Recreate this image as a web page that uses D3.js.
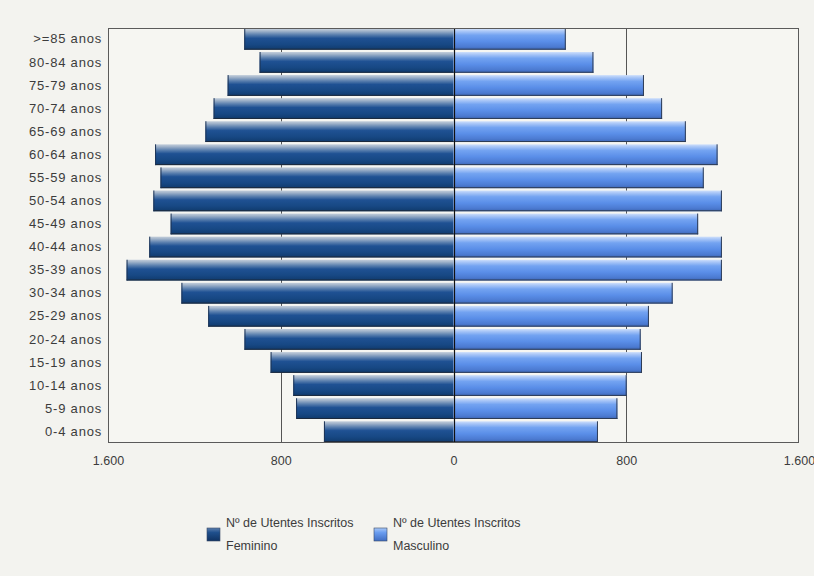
<!DOCTYPE html>
<html>
<head>
<meta charset="utf-8">
<script src="https://cdn.jsdelivr.net/npm/d3@7/dist/d3.min.js"></script>
<style>
  html, body { margin: 0; padding: 0; background: #f3f3ef; }
  svg { display: block; }
  text { font-family: "Liberation Sans", Arial, sans-serif; fill: #3c3c3c; }
</style>
</head>
<body>
<svg id="chart" width="814" height="576"></svg>
<script>
// Age groups, oldest at the top
const ageGroups = [">=85 anos", "80-84 anos", "75-79 anos", "70-74 anos", "65-69 anos",
  "60-64 anos", "55-59 anos", "50-54 anos", "45-49 anos", "40-44 anos", "35-39 anos",
  "30-34 anos", "25-29 anos", "20-24 anos", "15-19 anos", "10-14 anos", "5-9 anos", "0-4 anos"];

// Registered users per age group
const feminino = [969, 898, 1046, 1111, 1149, 1382, 1357, 1390, 1310, 1409, 1514,
  1260, 1136, 968, 847, 742, 729, 600];
const masculino = [520, 648, 882, 966, 1076, 1223, 1159, 1243, 1133, 1243, 1243,
  1015, 905, 867, 873, 802, 759, 669];

const xTicks = [-1600, -800, 0, 800, 1600];
const seriesNames = ["Nº de Utentes Inscritos|Feminino", "Nº de Utentes Inscritos|Masculino"];

const svg = d3.select("#chart");
const plot = { left: 108, right: 799, top: 28, bottom: 443 };

const x = d3.scaleLinear().domain([-1600, 1600]).range([plot.left, plot.right]);
const y = d3.scaleBand().domain(ageGroups).range([plot.top, plot.bottom])
  .paddingInner(0.1).paddingOuter(0.04);

const pt = d3.formatLocale({ decimal: ",", thousands: ".", grouping: [3], currency: ["", "€"] });
const fmt = pt.format(",d");

// Gradients for the bevelled bars
const defs = svg.append("defs");
function grad(id, stops) {
  const g = defs.append("linearGradient").attr("id", id)
    .attr("x1", 0).attr("y1", 0).attr("x2", 0).attr("y2", 1);
  stops.forEach(([o, c]) => g.append("stop").attr("offset", o).attr("stop-color", c));
}
grad("gFem", [[0, "#c3cedb"], [0.1, "#a3b5cb"], [0.28, "#5a7fae"], [0.45, "#1f5193"], [0.75, "#174884"], [1, "#103a6c"]]);
grad("gMas", [[0, "#cfe0fb"], [0.1, "#adc9f8"], [0.3, "#73a3f1"], [0.6, "#5a8ee8"], [0.85, "#4c7bd2"], [1, "#3d66b4"]]);

// Plot background
svg.append("rect")
  .attr("x", plot.left).attr("y", plot.top)
  .attr("width", plot.right - plot.left).attr("height", plot.bottom - plot.top)
  .attr("fill", "#f6f6f2");

// Vertical grid lines (behind bars)
svg.append("g").selectAll("line")
  .data(xTicks.filter(d => d !== 0 && Math.abs(d) !== 1600))
  .join("line")
  .attr("x1", d => Math.round(x(d)) + 0.5).attr("x2", d => Math.round(x(d)) + 0.5)
  .attr("y1", plot.top).attr("y2", plot.bottom)
  .attr("stroke", "#555").attr("stroke-width", 1);

// Bars
const rows = ageGroups.map((g, i) => ({ g, f: feminino[i], m: masculino[i] }));
const bars = svg.append("g");
const bh = y.bandwidth();

bars.selectAll("rect.fem").data(rows).join("rect")
  .attr("class", "fem")
  .attr("x", d => x(-d.f)).attr("y", d => y(d.g))
  .attr("width", d => x(0) - x(-d.f)).attr("height", bh)
  .attr("fill", "url(#gFem)");
bars.selectAll("rect.mas").data(rows).join("rect")
  .attr("class", "mas")
  .attr("x", x(0)).attr("y", d => y(d.g))
  .attr("width", d => x(d.m) - x(0)).attr("height", bh)
  .attr("fill", "url(#gMas)");

// Dark shadow edges: bottom of every bar and the outer end of each bar
bars.selectAll("line.fb").data(rows).join("line")
  .attr("x1", d => x(-d.f)).attr("x2", x(0))
  .attr("y1", d => y(d.g) + bh - 0.5).attr("y2", d => y(d.g) + bh - 0.5)
  .attr("stroke", "#1d2a3c").attr("stroke-width", 1);
bars.selectAll("line.mb").data(rows).join("line")
  .attr("x1", x(0)).attr("x2", d => x(d.m))
  .attr("y1", d => y(d.g) + bh - 0.5).attr("y2", d => y(d.g) + bh - 0.5)
  .attr("stroke", "#2e3c55").attr("stroke-width", 1);
bars.selectAll("line.me").data(rows).join("line")
  .attr("x1", d => x(d.m) - 0.5).attr("x2", d => x(d.m) - 0.5)
  .attr("y1", d => y(d.g)).attr("y2", d => y(d.g) + bh)
  .attr("stroke", "#2e3c55").attr("stroke-width", 1);
bars.selectAll("line.fe").data(rows).join("line")
  .attr("x1", d => x(-d.f) + 0.5).attr("x2", d => x(-d.f) + 0.5)
  .attr("y1", d => y(d.g)).attr("y2", d => y(d.g) + bh)
  .attr("stroke", "#1d3456").attr("stroke-width", 1);

// Zero line on top
svg.append("line")
  .attr("x1", Math.round(x(0)) + 0.5).attr("x2", Math.round(x(0)) + 0.5)
  .attr("y1", plot.top).attr("y2", plot.bottom)
  .attr("stroke", "#111").attr("stroke-width", 1.2);

// Plot frame
svg.append("rect")
  .attr("x", plot.left + 0.5).attr("y", plot.top + 0.5)
  .attr("width", plot.right - plot.left - 1).attr("height", plot.bottom - plot.top - 1)
  .attr("fill", "none").attr("stroke", "#5a5a5a").attr("stroke-width", 1);

// Category labels
const yAxis = d3.axisLeft(y).tickSize(0).tickPadding(6);
const gy = svg.append("g").attr("transform", `translate(${plot.left},0)`).call(yAxis);
gy.select(".domain").remove();
gy.selectAll("text")
  .style("font-family", '"Liberation Sans", Arial, sans-serif')
  .style("font-size", "13px").style("letter-spacing", "0.8px")
  .attr("fill", "#3c3c3c");

// Value axis
const xAxis = d3.axisBottom(x).tickValues(xTicks).tickSize(0).tickPadding(0)
  .tickFormat(d => fmt(Math.abs(d)));
const gx = svg.append("g").attr("transform", `translate(0,${plot.bottom + 13})`).call(xAxis);
gx.select(".domain").remove();
gx.selectAll("text")
  .style("font-family", '"Liberation Sans", Arial, sans-serif')
  .style("font-size", "12.5px").attr("fill", "#3c3c3c");

// Legend
grad("gFemL", [[0, "#5c7fae"], [0.35, "#1f4f8c"], [1, "#0f3262"]]);
grad("gMasL", [[0, "#a9c8f7"], [0.35, "#6a9df0"], [1, "#3f6cc2"]]);
const legendItems = [
  { name: seriesNames[0], fill: "url(#gFemL)", x: 207 },
  { name: seriesNames[1], fill: "url(#gMasL)", x: 374 }
];
const lg = svg.append("g");
legendItems.forEach(it => {
  lg.append("rect").attr("x", it.x).attr("y", 528).attr("width", 13).attr("height", 13)
    .attr("fill", it.fill).attr("stroke", "#3a4a66").attr("stroke-width", 0.6);
  const lines = it.name.split("|");
  lines.forEach((t, i) => {
    lg.append("text").attr("x", it.x + 19).attr("y", 527 + i * 23)
      .style("font-size", "12.5px").text(t);
  });
});
</script>
</body>
</html>
